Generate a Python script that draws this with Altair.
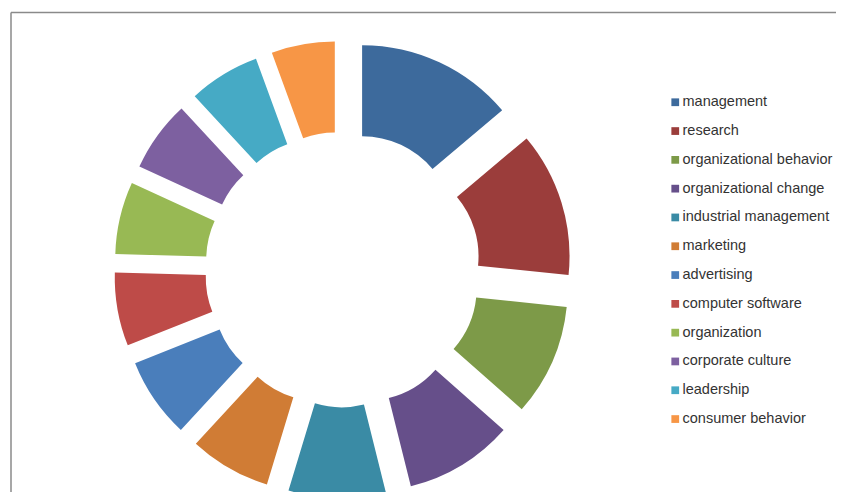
import altair as alt
import pandas as pd

categories = [
    "management", "research", "organizational behavior", "organizational change",
    "industrial management", "marketing", "advertising", "computer software",
    "organization", "corporate culture", "leadership", "consumer behavior",
]
values = [139, 128, 99, 96, 86, 72, 71, 65, 64, 63, 63, 56]
colors = [
    "#3D6A9C", "#9B3D3B", "#7D9A48", "#664F8A", "#3A8BA5", "#D07C35",
    "#4A7EBB", "#BE4B48", "#98B954", "#7D60A0", "#46AAC5", "#F79646",
]

# layout constants (pixels, view coordinates)
W, H = 828, 484
CX, CY = 334.8, 261.6
R_OUT, R_IN = 183, 92
EXPLODE = 0.25  # fraction of outer radius

df = pd.DataFrame({"category": categories, "value": values, "order": list(range(len(values)))})

base = alt.Chart(df).transform_window(
    cum="sum(value)", sort=[alt.SortField("order")], frame=[None, 0]
).transform_joinaggregate(
    total="sum(value)"
).transform_calculate(
    t1="datum.cum / datum.total * 2 * PI",
    t0="(datum.cum - datum.value) / datum.total * 2 * PI",
).transform_calculate(
    mid="(datum.t0 + datum.t1) / 2"
).transform_calculate(
    ox=f"{EXPLODE} * sin(datum.mid)",
    oy=f"{EXPLODE} * cos(datum.mid)",
)

arcs = base.mark_arc(radius=R_OUT, radius2=R_IN, stroke=None).encode(
    x=alt.X("ox:Q", scale=alt.Scale(domain=[-1, 1], range=[CX - R_OUT, CX + R_OUT]), axis=None),
    y=alt.Y("oy:Q", scale=alt.Scale(domain=[-1, 1], range=[CY + R_OUT, CY - R_OUT]), axis=None),
    theta=alt.Theta("t0:Q", scale=None),
    theta2=alt.Theta2("t1:Q"),
    color=alt.Color(
        "category:N",
        scale=alt.Scale(domain=categories, range=colors),
        legend=alt.Legend(
            title=None,
            orient="none",
            legendX=660,
            legendY=87,
            symbolType="square",
            symbolSize=60,
            symbolStrokeWidth=0,
            labelFont="Liberation Sans",
            labelFontSize=14.5,
            labelColor="#333333",
            labelLimit=300,
            rowPadding=13.8,
            labelOffset=0,
            padding=0,
        ),
    ),
)

frame_df = pd.DataFrame({"a": [0]})
top_line = alt.Chart(frame_df).mark_rule(color="#8a8a8a", strokeWidth=1.5).encode(
    x=alt.value(3), x2=alt.value(W), y=alt.value(4.5)
)
left_line = alt.Chart(frame_df).mark_rule(color="#8a8a8a", strokeWidth=1.5).encode(
    x=alt.value(3), y=alt.value(4.5), y2=alt.value(H)
)

chart = alt.layer(arcs, top_line, left_line).properties(
    width=W, height=H, autosize=alt.AutoSizeParams(type="none"), padding=0
).configure_view(stroke=None)

chart.save("out.html", embed_options={"renderer": "svg", "actions": False})
